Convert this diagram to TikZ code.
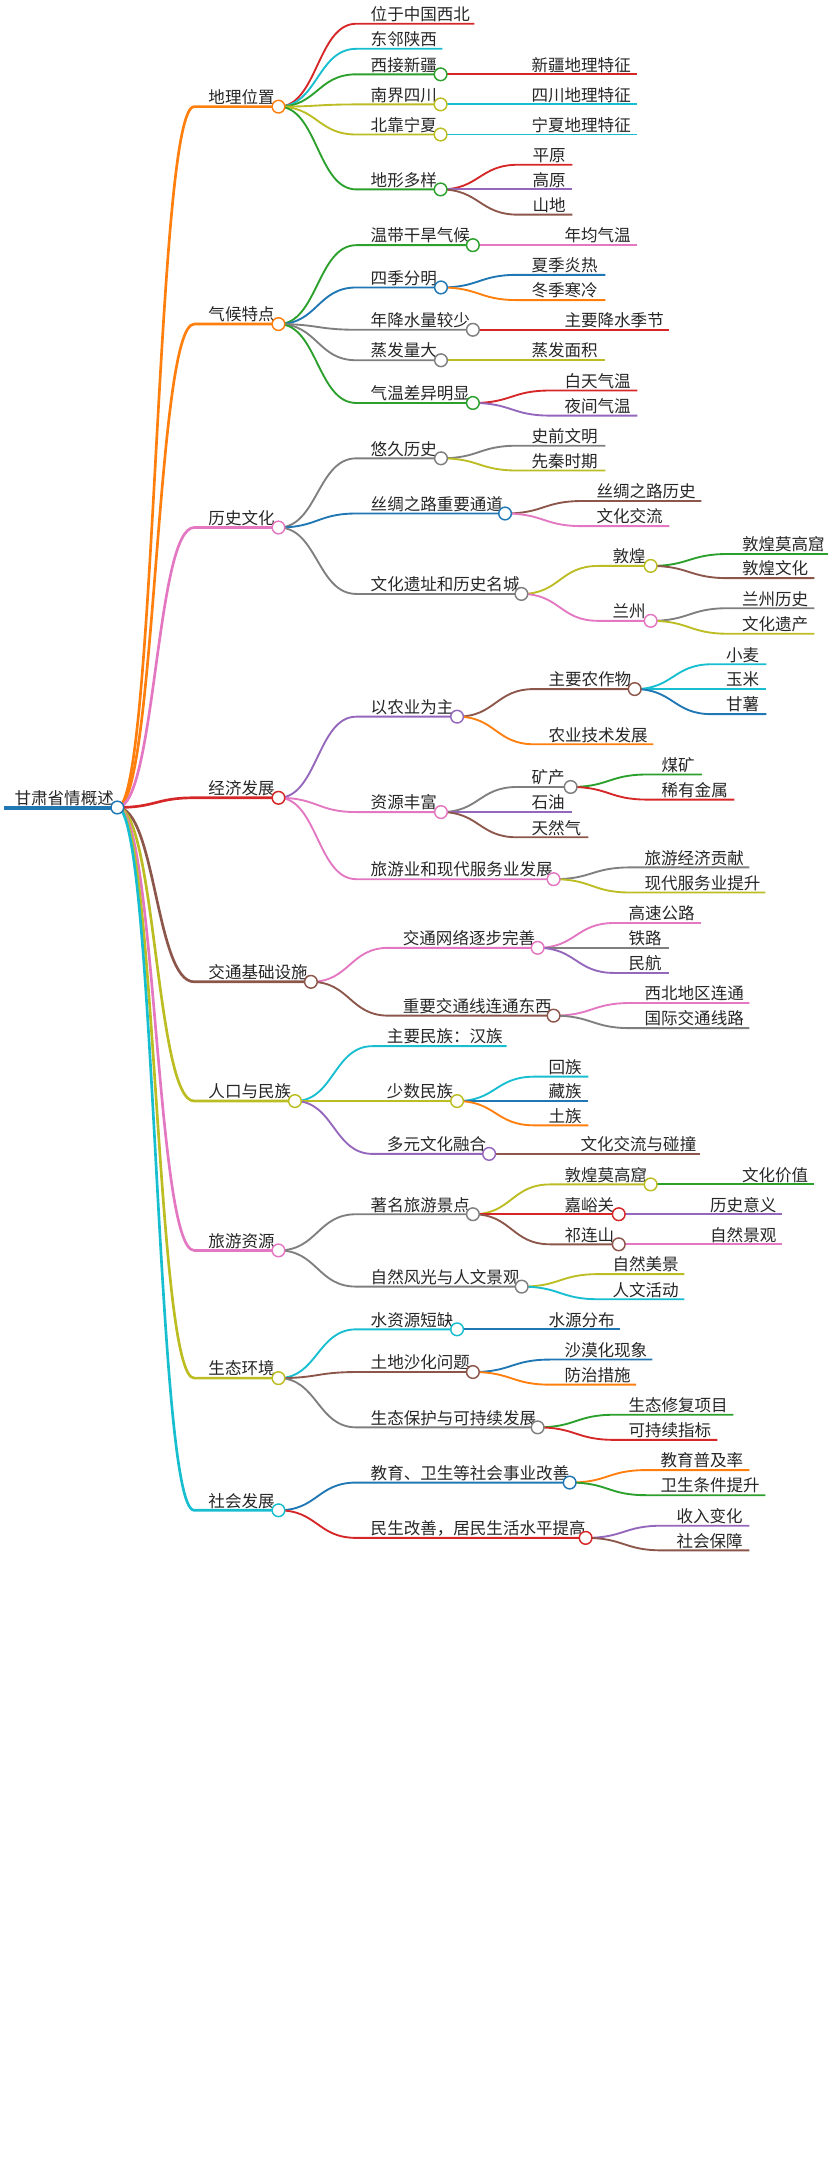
\documentclass[tikz,border=0pt]{standalone}
\usepackage{fontspec}
\newfontfamily\cjk{Noto Sans CJK SC}
\usetikzlibrary{calc}
\definecolor{cR}{HTML}{D62728}\definecolor{cC}{HTML}{17BECF}\definecolor{cG}{HTML}{2CA02C}
\definecolor{cY}{HTML}{BCBD22}\definecolor{cP}{HTML}{9467BD}\definecolor{cN}{HTML}{8C564B}
\definecolor{cK}{HTML}{E377C2}\definecolor{cA}{HTML}{7F7F7F}\definecolor{cB}{HTML}{1F77B4}
\definecolor{cO}{HTML}{FF7F0E}
\tikzset{lbl/.style={anchor=south west,inner sep=1.2pt,font=\cjk\fontsize{12.4}{14}\selectfont,text=black!85},
  lnk/.style={line width=1.4pt},
  dot/.style={circle,draw=#1,fill=white,line width=1.1pt,minimum size=9.5pt,inner sep=0pt}}
% parent, name, text, tx, y, ex, colour
\newcommand\br[7]{%
  \coordinate (#2-l) at (#4-9,#5);
  \coordinate (#2) at (#6,#5);
  \draw[lnk,#7] let \p1=(#1), \p2=(#2-l) in (\p1) .. controls (\x1/2+\x2/2,\y1) and (\x1/2+\x2/2,\y2) .. (\p2) -- (#2);
  \node[lbl] (#2-t) at (#4,#5) {#3};}
\newcommand\cir[2]{\node[dot=#2] at (#1) {};}
\begin{document}
\begin{tikzpicture}[x=1.04pt,y=-1.04pt]
\useasboundingbox (0,0) rectangle (600,1567);
\coordinate (root) at (84.6,582.3);
\coordinate (rootl) at (3,582.3);
\draw[cB,line width=3pt] (rootl) -- (root);
\node[lbl] (root-t) at (9.2,582.3) {甘肃省情概述};
\begin{scope}[lnk/.style={line width=2pt}]
\br{root}{geo}{地理位置}{149}{76.9}{200.8}{cO}
\br{root}{cli}{气候特点}{149}{233.7}{200.8}{cO}
\br{root}{his}{历史文化}{149}{380.4}{200.8}{cK}
\br{root}{eco}{经济发展}{149}{575.3}{200.8}{cR}
\br{root}{tra}{交通基础设施}{149}{708}{224.2}{cN}
\br{root}{pop}{人口与民族}{149}{794}{212.7}{cY}
\br{root}{tou}{旅游资源}{149}{901.7}{200.8}{cK}
\br{root}{env}{生态环境}{149}{993.8}{200.8}{cY}
\br{root}{soc}{社会发展}{149}{1089.1}{200.8}{cC}
\end{scope}
% geo
\br{geo}{g1}{位于中国西北}{266}{17.1}{342}{cR}
\br{geo}{g2}{东邻陕西}{266}{35.2}{319}{cC}
\br{geo}{g3}{西接新疆}{266}{53.6}{317.7}{cG}
\br{geo}{g4}{南界四川}{266}{75.3}{317.7}{cY}
\br{geo}{g5}{北靠宁夏}{266}{97}{317.7}{cY}
\br{geo}{g6}{地形多样}{266}{136.6}{317.7}{cG}
\br{g3}{g31}{新疆地理特征}{382}{53.6}{459.6}{cR}
\br{g4}{g41}{四川地理特征}{382}{75.3}{459.6}{cC}
\br{g5}{g51}{宁夏地理特征}{382}{97}{459.6}{cC}
\br{g6}{g61}{平原}{382.7}{118.8}{412.7}{cR}
\br{g6}{g62}{高原}{382.7}{136.6}{412.7}{cP}
\br{g6}{g63}{山地}{382.7}{154.8}{412.7}{cN}
% cli
\br{cli}{c1}{温带干旱气候}{266}{176.8}{341}{cG}
\br{cli}{c2}{四季分明}{266}{207.3}{318}{cB}
\br{cli}{c3}{年降水量较少}{266}{237.8}{341}{cA}
\br{cli}{c4}{蒸发量大}{266}{259.8}{318}{cA}
\br{cli}{c5}{气温差异明显}{266}{290.6}{341}{cG}
\br{c1}{c11}{年均气温}{405.8}{176.8}{459.6}{cK}
\br{c2}{c21}{夏季炎热}{382}{198.2}{436.5}{cB}
\br{c2}{c22}{冬季寒冷}{382}{216.4}{436.5}{cO}
\br{c3}{c31}{主要降水季节}{405.8}{237.8}{482.7}{cR}
\br{c4}{c41}{蒸发面积}{382}{259.8}{436.5}{cY}
\br{c5}{c51}{白天气温}{405.8}{281.6}{459.6}{cR}
\br{c5}{c52}{夜间气温}{405.8}{299.7}{459.6}{cP}
% his
\br{his}{h1}{悠久历史}{266}{330.5}{318}{cA}
\br{his}{h2}{丝绸之路重要通道}{266}{370.3}{364.2}{cB}
\br{his}{h3}{文化遗址和历史名城}{266}{428.3}{376}{cA}
\br{h1}{h11}{史前文明}{382}{321.4}{436.5}{cA}
\br{h1}{h12}{先秦时期}{382}{339.3}{436.5}{cY}
\br{h2}{h21}{丝绸之路历史}{428.8}{361.3}{505.8}{cN}
\br{h2}{h22}{文化交流}{428.8}{379.4}{482.7}{cK}
\br{h3}{h31}{敦煌}{440.4}{408.1}{469.2}{cY}
\br{h3}{h32}{兰州}{440.4}{447.7}{469.2}{cK}
\br{h31}{h311}{敦煌莫高窟}{533.8}{399.5}{597}{cG}
\br{h31}{h312}{敦煌文化}{533.8}{416.9}{587.3}{cN}
\br{h32}{h321}{兰州历史}{533.8}{438.6}{587.3}{cA}
\br{h32}{h322}{文化遗产}{533.8}{457}{587.3}{cY}
% eco
\br{eco}{e1}{以农业为主}{266}{516.8}{329.6}{cP}
\br{eco}{e2}{资源丰富}{266}{585.6}{318}{cK}
\br{eco}{e3}{旅游业和现代服务业发展}{266}{634}{399.2}{cK}
\br{e1}{e11}{主要农作物}{394.2}{496.9}{457.7}{cN}
\br{e1}{e12}{农业技术发展}{394.2}{536.7}{471.2}{cO}
\br{e11}{e111}{小麦}{522.3}{479}{552.7}{cC}
\br{e11}{e112}{玉米}{522.3}{496.9}{552.7}{cC}
\br{e11}{e113}{甘薯}{522.3}{515}{552.7}{cB}
\br{e2}{e21}{矿产}{382}{567.5}{411.5}{cA}
\br{e2}{e22}{石油}{382}{585.6}{412.7}{cP}
\br{e2}{e23}{天然气}{382}{603.8}{424.2}{cN}
\br{e21}{e211}{煤矿}{475.8}{558.5}{506.2}{cG}
\br{e21}{e212}{稀有金属}{475.8}{576.6}{529.6}{cR}
\br{e3}{e31}{旅游经济贡献}{463.5}{625.5}{540.4}{cA}
\br{e3}{e32}{现代服务业提升}{463.5}{643.6}{552}{cY}
% tra
\br{tra}{t1}{交通网络逐步完善}{289.2}{683.5}{387.7}{cK}
\br{tra}{t2}{重要交通线连通东西}{289.2}{732.4}{399.2}{cN}
\br{t1}{t11}{高速公路}{451.9}{665.6}{505.4}{cK}
\br{t1}{t12}{铁路}{451.9}{683.5}{482.3}{cA}
\br{t1}{t13}{民航}{451.9}{701.6}{482.3}{cP}
\br{t2}{t21}{西北地区连通}{463.5}{723.3}{540.4}{cK}
\br{t2}{t22}{国际交通线路}{463.5}{741.4}{540.4}{cA}
% pop
\br{pop}{p1}{主要民族：汉族}{277.7}{754.4}{365.4}{cC}
\br{pop}{p2}{少数民族}{277.7}{794}{329.6}{cY}
\br{pop}{p3}{多元文化融合}{277.7}{832.1}{352.7}{cP}
\br{p2}{p21}{回族}{394.2}{776.4}{424.2}{cC}
\br{p2}{p22}{藏族}{394.2}{794}{424.2}{cB}
\br{p2}{p23}{土族}{394.2}{811.5}{424.2}{cO}
\br{p3}{p31}{文化交流与碰撞}{417.3}{832.1}{505}{cN}
% tou
\br{tou}{u1}{著名旅游景点}{266}{875.6}{341}{cA}
\br{tou}{u2}{自然风光与人文景观}{266}{927.8}{376.2}{cA}
\br{u1}{u11}{敦煌莫高窟}{405.8}{854.1}{469.2}{cY}
\br{u1}{u12}{嘉峪关}{405.8}{875.6}{446.2}{cR}
\br{u1}{u13}{祁连山}{405.8}{897.3}{446.2}{cN}
\br{u11}{u111}{文化价值}{533.8}{854.1}{587.3}{cG}
\br{u12}{u121}{历史意义}{510.8}{875.6}{564.2}{cP}
\br{u13}{u131}{自然景观}{510.8}{897.3}{564.2}{cK}
\br{u2}{u21}{自然美景}{440.4}{918.8}{493.5}{cY}
\br{u2}{u22}{人文活动}{440.4}{936.9}{493.5}{cC}
% env
\br{env}{v1}{水资源短缺}{266}{958.6}{329.6}{cC}
\br{env}{v2}{土地沙化问题}{266}{989.4}{341}{cN}
\br{env}{v3}{生态保护与可持续发展}{266}{1029.3}{387.7}{cA}
\br{v1}{v11}{水源分布}{394.2}{958.6}{447.3}{cB}
\br{v2}{v21}{沙漠化现象}{405.8}{980.4}{470.4}{cB}
\br{v2}{v22}{防治措施}{405.8}{998.5}{458.8}{cO}
\br{v3}{v31}{生态修复项目}{451.9}{1020.2}{528.8}{cG}
\br{v3}{v32}{可持续指标}{451.9}{1038.3}{517.3}{cR}
% soc
\br{soc}{s1}{教育、卫生等社会事业改善}{266}{1069.1}{410.8}{cB}
\br{soc}{s2}{民生改善，居民生活水平提高}{266}{1109}{422.3}{cR}
\br{s1}{s11}{教育普及率}{475}{1060.1}{540.4}{cO}
\br{s1}{s12}{卫生条件提升}{475}{1078.2}{552}{cG}
\br{s2}{s21}{收入变化}{486.5}{1100.2}{540.4}{cP}
\br{s2}{s22}{社会保障}{486.5}{1118}{540.4}{cN}
% dots
\cir{root}{cB}
\cir{geo}{cO}\cir{cli}{cO}\cir{his}{cK}\cir{eco}{cR}\cir{tra}{cN}\cir{pop}{cY}\cir{tou}{cK}\cir{env}{cY}\cir{soc}{cC}
\cir{g3}{cG}\cir{g4}{cY}\cir{g5}{cY}\cir{g6}{cG}
\cir{c1}{cG}\cir{c2}{cB}\cir{c3}{cA}\cir{c4}{cA}\cir{c5}{cG}
\cir{h1}{cA}\cir{h2}{cB}\cir{h3}{cA}\cir{h31}{cY}\cir{h32}{cK}
\cir{e1}{cP}\cir{e2}{cK}\cir{e3}{cK}\cir{e11}{cN}\cir{e21}{cA}
\cir{t1}{cK}\cir{t2}{cN}
\cir{p2}{cY}\cir{p3}{cP}
\cir{u1}{cA}\cir{u2}{cA}\cir{u11}{cY}\cir{u12}{cR}\cir{u13}{cN}
\cir{v1}{cC}\cir{v2}{cN}\cir{v3}{cA}
\cir{s1}{cB}\cir{s2}{cR}
\end{tikzpicture}
\end{document}
